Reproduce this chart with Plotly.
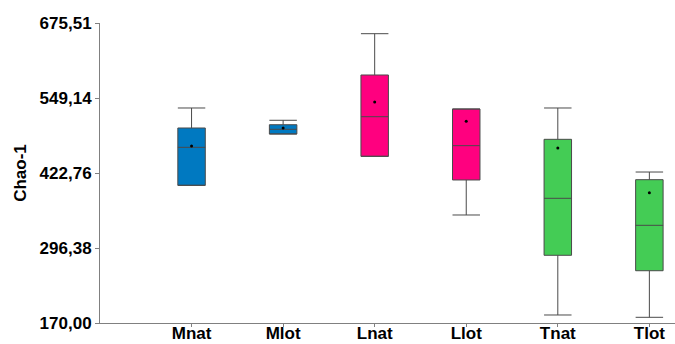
import plotly.graph_objects as go

# Chao-1 richness estimates per group (box statistics)
groups = ["Mnat", "Mlot", "Lnat", "Llot", "Tnat", "Tlot"]
lower = [402.0, 488.5, 450.9, 352.0, 183.5, 179.6]
q1 = [402.0, 488.5, 450.9, 411.0, 284.1, 258.1]
median = [466.0, 496.4, 517.6, 468.8, 380.1, 334.6]
q3 = [498.6, 504.1, 587.9, 530.6, 479.5, 411.5]
upper = [532.3, 511.6, 657.5, 530.6, 532.3, 424.4]
mean = [468.2, 498.6, 542.4, 509.9, 464.9, 389.6]
colors = ["#0079C1", "#0079C1", "#FF007F", "#FF007F", "#44CC55", "#44CC55"]

y_ticks = [170.00, 296.38, 422.76, 549.14, 675.51]
y_tick_text = ["170,00", "296,38", "422,76", "549,14", "675,51"]

fig = go.Figure()
for i, g in enumerate(groups):
    fig.add_trace(go.Box(
        x=[g], q1=[q1[i]], median=[median[i]], q3=[q3[i]],
        lowerfence=[lower[i]], upperfence=[upper[i]],
        fillcolor=colors[i], line=dict(color="#4a4a4a", width=1),
        width=0.3, whiskerwidth=1, boxpoints=False, showlegend=False,
        hoverinfo="skip",
    ))

fig.add_trace(go.Scatter(
    x=groups, y=mean, mode="markers",
    marker=dict(color="black", size=3), showlegend=False,
))

font_family = "Liberation Sans, Arial, sans-serif"
fig.update_layout(
    width=675, height=344,
    margin=dict(l=100, r=0, t=23, b=21),
    plot_bgcolor="white", paper_bgcolor="white",
    boxmode="overlay",
    font=dict(family=font_family, color="black"),
)
fig.update_xaxes(
    type="category", range=[-1, 5.28], automargin=False,
    showline=True, linecolor="#808080", linewidth=1,
    ticks="outside", ticklen=3, tickcolor="#808080",
    ticklabelstandoff=-8,
    tickfont=dict(size=17, family=font_family, weight="bold"),
    showgrid=False, zeroline=False,
)
fig.update_yaxes(
    range=[170, 675.51], tickvals=y_ticks, ticktext=y_tick_text,
    automargin=False,
    showline=True, linecolor="#808080", linewidth=1,
    ticks="outside", ticklen=4, tickcolor="#808080",
    tickfont=dict(size=17, family=font_family, weight="bold"),
    title=dict(text="Chao-1", font=dict(size=17, family=font_family, weight="bold"), standoff=8),
    showgrid=False, zeroline=False,
)

fig.write_html("out.html")
